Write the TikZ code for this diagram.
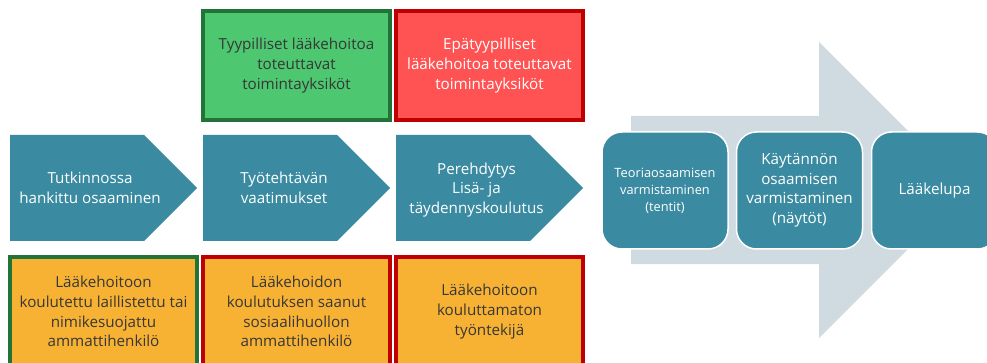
\documentclass[tikz,border=0pt]{standalone}
\usepackage{fontspec}
\setmainfont{Open Sans}
\usetikzlibrary{positioning}

\definecolor{tealbox}{RGB}{58,139,161}
\definecolor{arrowbg}{RGB}{207,218,225}
\definecolor{okfill}{RGB}{77,199,112}
\definecolor{okline}{RGB}{33,115,55}
\definecolor{badfill}{RGB}{255,82,82}
\definecolor{badline}{RGB}{192,0,0}
\definecolor{staff}{RGB}{248,178,51}
\definecolor{darktext}{RGB}{55,55,55}

\tikzstyle{box}=[draw, line width=4pt, minimum width=187pt, minimum height=109pt, inner sep=0pt, align=center, font=\fontsize{15.2}{19.8}\selectfont]
\tikzstyle{unitok}=[box, fill=okfill, draw=okline, text=darktext]
\tikzstyle{unitbad}=[box, fill=badfill, draw=badline, text=white]
\tikzstyle{staffok}=[box, fill=staff, draw=okline, text=darktext]
\tikzstyle{staffbad}=[box, fill=staff, draw=badline, text=darktext]
\tikzstyle{chevtext}=[align=center, text=white, inner sep=0pt, font=\fontsize{15.2}{19.5}\selectfont]
\tikzstyle{phase}=[draw=white, line width=1.5pt, fill=tealbox, rounded corners=20pt, minimum width=126pt, minimum height=117pt, inner sep=0pt, align=center, text=white, font=\fontsize{15.2}{19.5}\selectfont]

\begin{document}
\begin{tikzpicture}[x=1pt, y=-1pt]
		%\draw [help lines, step=50] (0,0) grid (987,363);
		\useasboundingbox (0,0) rectangle (987,363);
		\clip (0,0) rectangle (987,363);

		% big arrow behind the checks
		\fill[arrowbg] (631,116) -- (819,116) -- (819,42) -- (967,190) -- (819,338) -- (819,264) -- (631,264) -- cycle;

		% chevrons
		\fill[tealbox] (10,135) -- (144,135) -- (197,188) -- (144,241) -- (10,241) -- cycle;
		\fill[tealbox] (203,135) -- (337,135) -- (390,188) -- (337,241) -- (203,241) -- cycle;
		\fill[tealbox] (396,135) -- (530,135) -- (583,188) -- (530,241) -- (396,241) -- cycle;

		\node[chevtext] (tutkinto) at (90,188) {Tutkinnossa\\hankittu osaaminen};
		\node[chevtext] (tyotehtava) at (284,188) {Työtehtävän\\vaatimukset};
		\node[chevtext] (perehdytys) at (476.5,190) {Perehdytys\\Lisä- ja\\täydennyskoulutus};

		% units
		\node[unitok] (tyypilliset) at (296.5,65.5) {Tyypilliset lääkehoitoa\\toteuttavat\\toimintayksiköt};
		\node[unitbad] (epatyypilliset) at (489.5,65.5) {Epätyypilliset\\lääkehoitoa toteuttavat\\toimintayksiköt};

		% staff
		\node[staffok] (laillistettu) at (103.5,311.5) {Lääkehoitoon\\koulutettu laillistettu tai\\nimikesuojattu\\ammattihenkilö};
		\node[staffbad] (sosiaali) at (296.5,311.5) {Lääkehoidon\\koulutuksen saanut\\sosiaalihuollon\\ammattihenkilö};
		\node[staffbad] (kouluttamaton) at (489.5,311.5) {Lääkehoitoon\\kouluttamaton\\työntekijä};

		% checks
		\node[phase, font=\fontsize{12.8}{17}\selectfont] (teoria) at (665,190.5) {Teoriaosaamisen\\varmistaminen\\(tentit)};
		\node[phase] (naytot) at (799.5,190.5) {Käytännön\\osaamisen\\varmistaminen\\(näytöt)};
		\node[phase] (lupa) at (934.5,190.5) {Lääkelupa};

\end{tikzpicture}
\end{document}
